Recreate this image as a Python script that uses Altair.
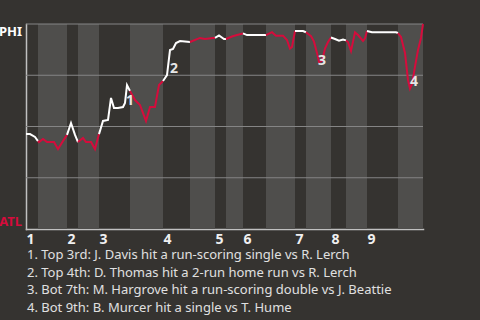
import altair as alt
import pandas as pd

# ---- data ----
# game progress units (0 = first pitch, 397 = final out)
half_starts = [0, 12, 41, 52, 73, 104, 137, 164, 189, 200, 217, 240, 269, 280, 305, 320, 341, 372, 397]
inning_labels = ["1", "2", "3", "4", "5", "6", "7", "8", "9"]

play_x = [0, 4, 9, 12,
          13, 17, 21, 28, 32, 37, 41,
          45, 49, 52,
          57, 60, 65, 69, 73,
          77, 82, 85, 88, 92, 97, 99, 101, 104,
          109, 114, 120, 124, 129, 133, 137,
          141, 144, 147, 150, 154, 164,
          174, 179, 187, 189,
          193, 198, 200,
          206, 211, 217,
          221, 240,
          246, 250, 257, 261, 264, 266, 269,
          277, 280,
          285, 288, 291, 293, 296, 299, 302, 305,
          309, 313, 317, 320,
          322, 325, 329, 332, 337, 339, 341,
          346, 370, 372,
          375, 379, 382, 384, 386, 389, 392, 395, 397]
phi_wp = [46.3, 46.3, 44.9, 42.9,
          42.4, 43.9, 42.4, 42.4, 39.0, 42.9, 45.9,
          51.7, 45.9, 42.4,
          44.4, 42.4, 42.4, 39.0, 46.3,
          52.7, 53.2, 63.9, 59.0, 59.0, 59.5, 61.5, 70.2, 67.3,
          62.9, 60.5, 52.7, 59.5, 59.5, 70.2, 72.2,
          75.1, 87.3, 87.8, 90.7, 91.7, 91.2,
          93.2, 92.7, 93.2, 93.2,
          94.4, 92.7, 92.7,
          93.9, 94.6, 95.4,
          94.6, 94.6,
          96.0, 94.3, 94.3, 92.2, 88.0, 88.8, 96.6,
          96.6, 96.0,
          94.1, 91.4, 85.9, 81.5, 82.0, 88.0, 91.2, 93.4,
          92.7, 91.9, 92.4, 92.0,
          91.2, 86.8, 95.9, 94.6, 91.7, 93.0, 96.6,
          96.0, 96.0, 95.6,
          93.7, 85.9, 72.7, 68.5, 70.7, 79.2, 87.3, 93.2, 100.0]

event_ids = ["1", "2", "3", "4"]
event_x = [104, 148, 296, 388]
event_wp = [62.4, 78.0, 82.0, 71.7]

notes = [
    "1. Top 3rd: J. Davis hit a run-scoring single vs R. Lerch",
    "2. Top 4th: D. Thomas hit a 2-run home run vs R. Lerch",
    "3. Bot 7th: M. Hargrove hit a run-scoring double vs J. Beattie",
    "4. Bot 9th: B. Murcer hit a single vs T. Hume",
]
grid_vals = [25, 50, 75, 100]

# ---- styling ----
BG = "#353330"
BAND = "#4f4e4c"
RED = "#d50c3c"
WHITE = "#ffffff"
FONT = "Noto Sans"

# ---- build tables ----
rows = []
for h in range(len(half_starts) - 1):
    lo, hi = half_starts[h], half_starts[h + 1]
    side = "top" if h % 2 == 0 else "bot"
    for x, w in zip(play_x, phi_wp):
        if lo <= x <= hi:
            rows.append({"x": x, "wp": w, "half": h, "side": side})
line_df = pd.DataFrame(rows)

band_df = pd.DataFrame({
    "x": half_starts[1:-1:2],
    "x2": half_starts[2::2],
})

x_scale = alt.Scale(domain=[0, 397], nice=False, zero=False)
y_scale = alt.Scale(domain=[0, 100], nice=False)

inning_starts = half_starts[0:-1:2]
label_expr = "indexof([" + ",".join(str(v) for v in inning_starts) + "], datum.value) + 1"

bands = alt.Chart(band_df).mark_rect(color=BAND).encode(
    x=alt.X("x:Q", scale=x_scale,
            axis=alt.Axis(values=inning_starts, labelExpr=label_expr, title=None,
                          ticks=False, grid=False, domainColor="#c0c0c0", domainWidth=1.5,
                          labelAlign="left", labelPadding=3, labelFont=FONT,
                          labelFontSize=14, labelFontWeight="bold", labelColor="#f0f0f0",
                          labelFlush=False, labelOverlap=False)),
    x2="x2:Q",
    y=alt.value(0),
    y2=alt.value(205),
)

grid = alt.Chart(pd.DataFrame({"g": grid_vals})).mark_rule(color="#858585", strokeWidth=1).encode(
    y=alt.Y("g:Q", scale=y_scale,
            axis=alt.Axis(labels=False, ticks=False, grid=False, title=None,
                          domainColor="#c0c0c0", domainWidth=1.5)),
)

line = alt.Chart(line_df).mark_line(strokeWidth=2).encode(
    x=alt.X("x:Q", scale=x_scale),
    y=alt.Y("wp:Q", scale=y_scale),
    color=alt.Color("side:N", scale=alt.Scale(domain=["top", "bot"], range=[WHITE, RED]), legend=None),
    detail="half:N",
    order="x:Q",
)

ev_df = pd.DataFrame({"id": event_ids, "x": event_x, "wp": event_wp})
events = alt.Chart(ev_df).mark_text(font=FONT, fontSize=14, fontWeight="bold",
                                    color="#e6e6e6", align="center", baseline="middle").encode(
    x=alt.X("x:Q", scale=x_scale),
    y=alt.Y("wp:Q", scale=y_scale),
    text="id:N",
)

phi = alt.Chart(pd.DataFrame({"t": ["PHI"], "x": [0], "wp": [100]})).mark_text(
    font=FONT, fontSize=13, fontWeight="bold", color=WHITE, align="right",
    baseline="top", dx=-4, dy=2).encode(
    x=alt.X("x:Q", scale=x_scale), y=alt.Y("wp:Q", scale=y_scale), text="t:N")

atl = alt.Chart(pd.DataFrame({"t": ["ATL"], "x": [0], "wp": [0]})).mark_text(
    font=FONT, fontSize=13, fontWeight="bold", color=RED, align="right",
    baseline="alphabetic", dx=-4, dy=-3).encode(
    x=alt.X("x:Q", scale=x_scale), y=alt.Y("wp:Q", scale=y_scale), text="t:N")

chart = alt.layer(bands, grid, line, events, phi, atl).properties(
    width=397,
    height=205,
    autosize=alt.AutoSizeParams(type="none"),
    padding={"left": 26, "top": 24, "right": 57, "bottom": 91},
    background=BG,
    title=alt.TitleParams(text=notes, orient="bottom", anchor="start", align="left",
                          frame="group",
                          font=FONT, fontSize=13, fontWeight="normal", color="#e0e0e0",
                          lineHeight=17.7, offset=3, dx=1),
).configure_view(stroke=None).configure_axis(domainCap="square")

chart.save("out.html", embed_options={"renderer": "svg", "actions": False})
